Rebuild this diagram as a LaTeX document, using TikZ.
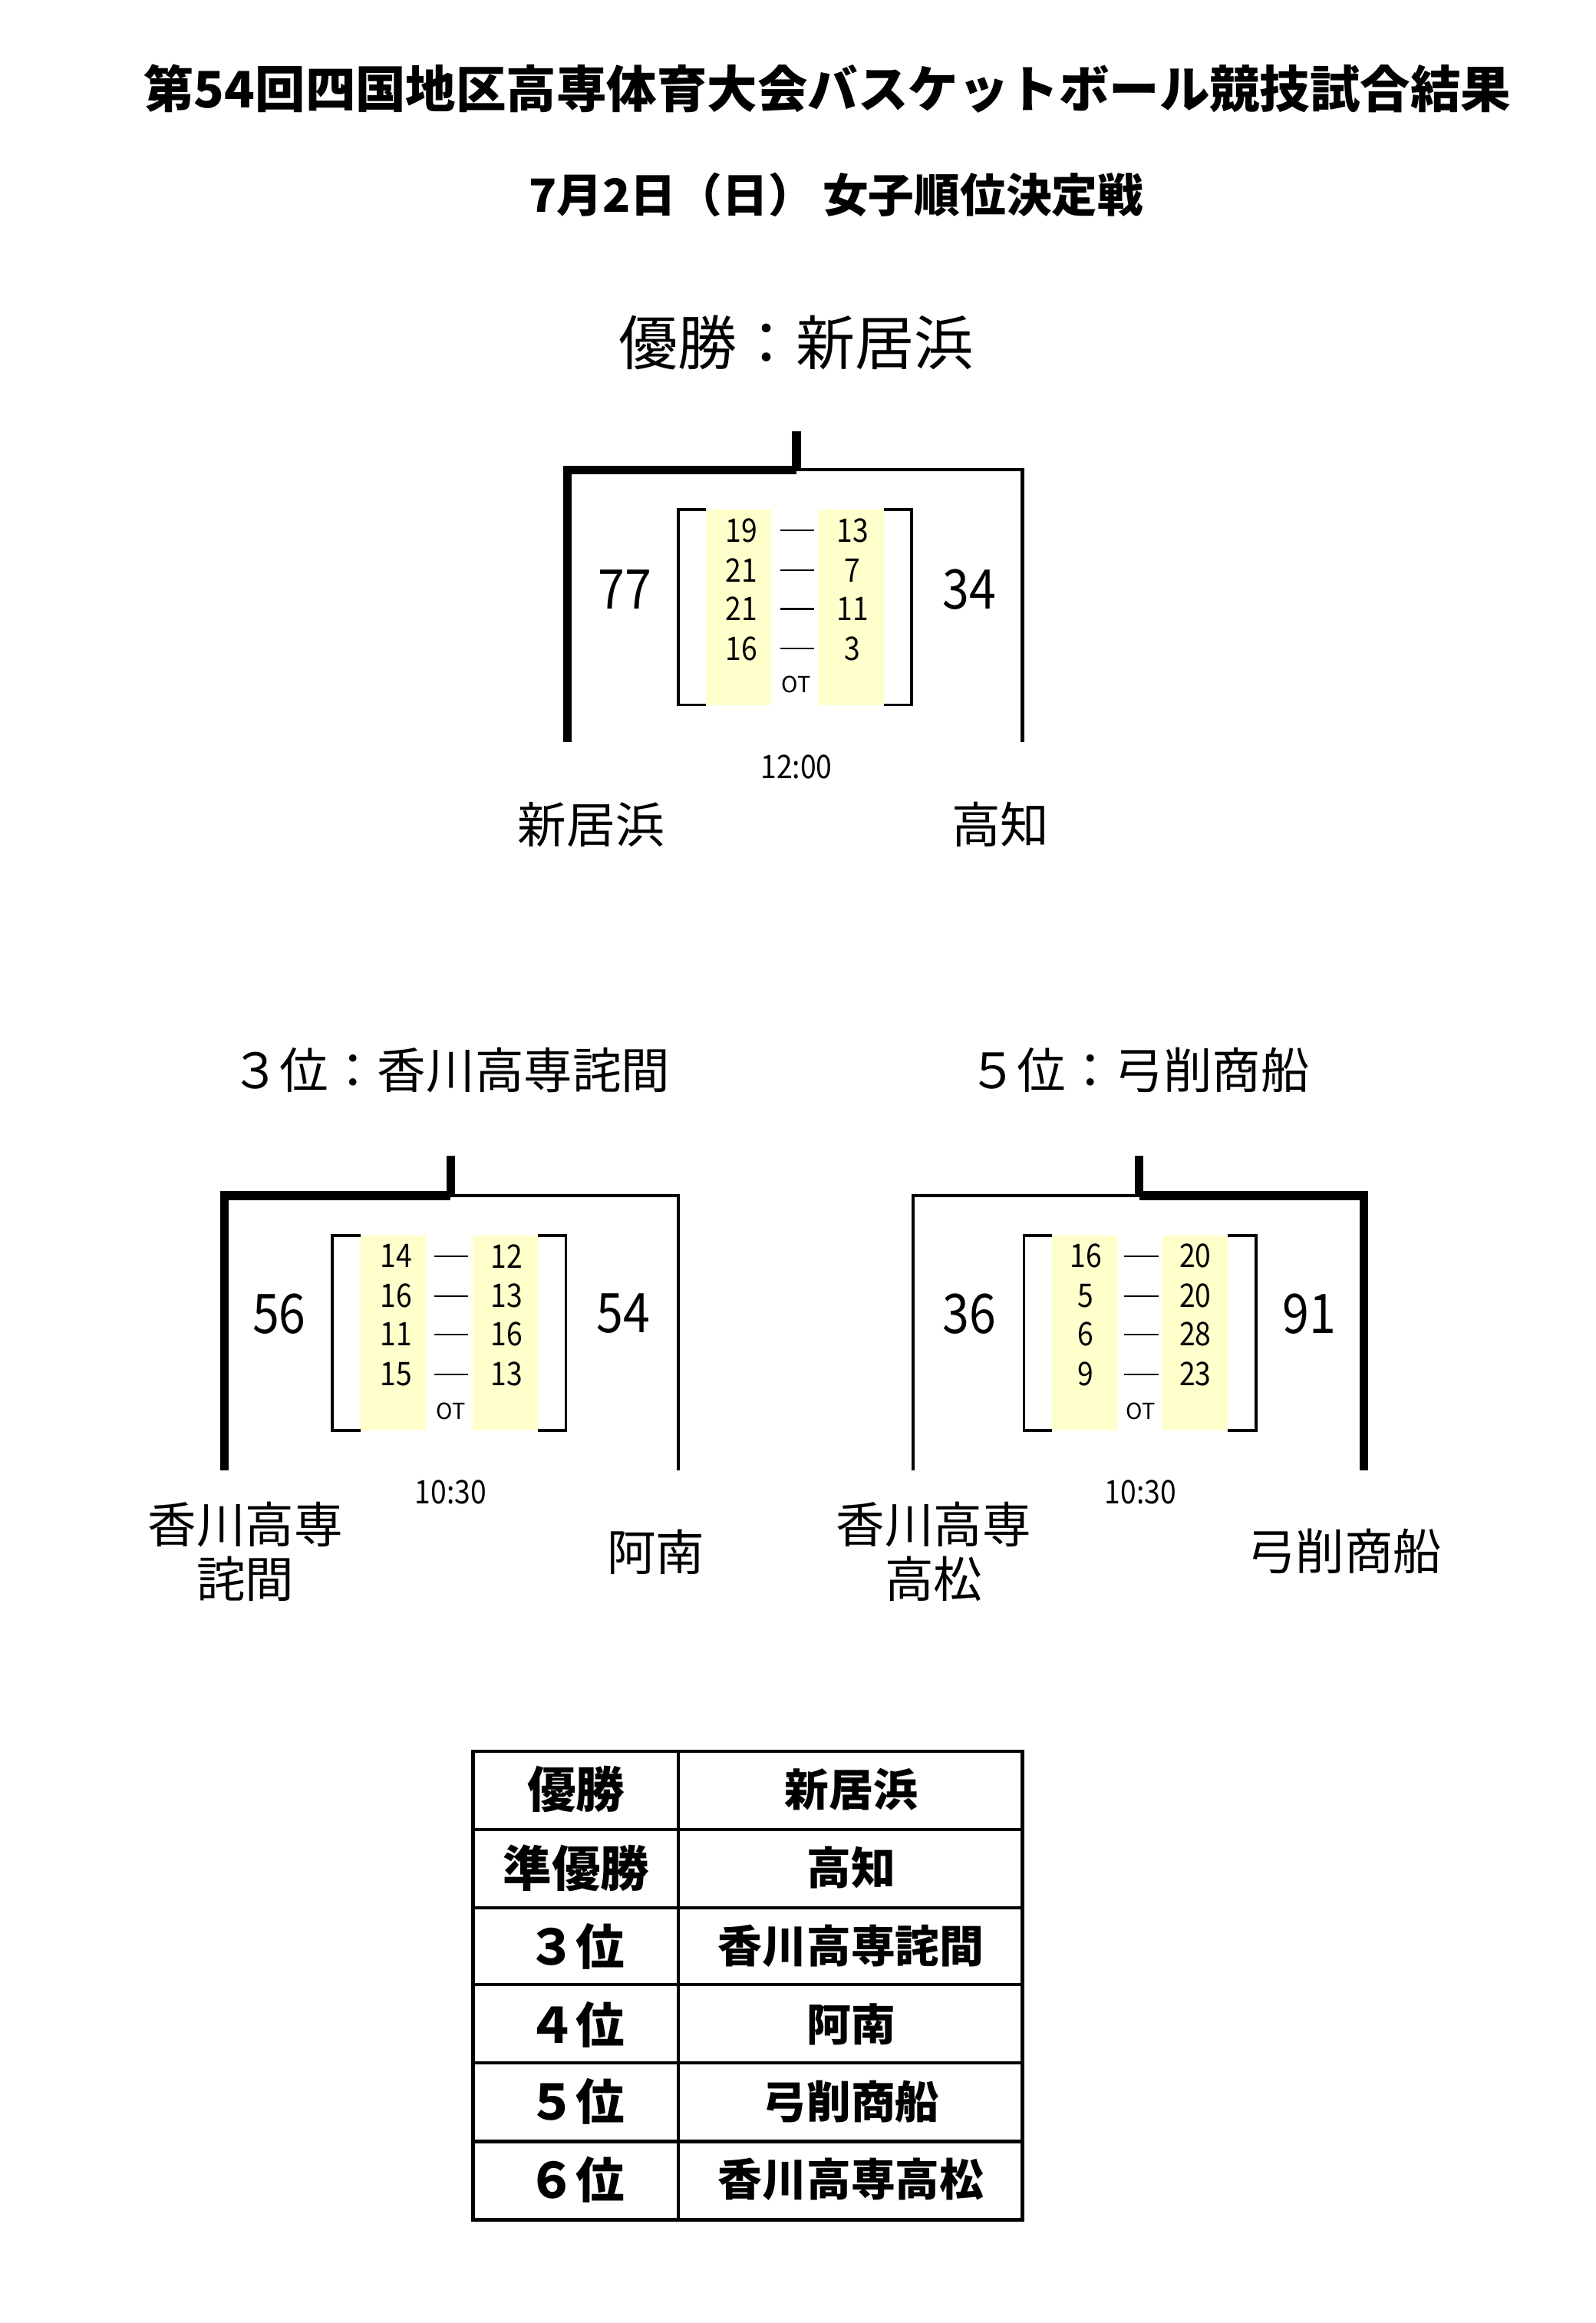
\documentclass[tikz,border=0pt]{standalone}
\usepackage{fontspec}
\setmainfont{Noto Sans CJK JP}
\newfontfamily\narrowfont{Noto Sans CJK JP}[FakeStretch=0.88]
\definecolor{scoreyellow}{HTML}{FFFFCC}
\tikzset{
  win/.style={line width=6pt},
  lose/.style={line width=2.2pt},
  brk/.style={line width=2pt},
  tbl/.style={line width=2.4pt},
  qscore/.style={font=\narrowfont\fontsize{22}{26}\selectfont},
  total/.style={font=\narrowfont\fontsize{37}{42}\selectfont},
  team/.style={font=\fontsize{33}{37}\selectfont,align=center},
}
\begin{document}
\begin{tikzpicture}[x=1pt,y=-1pt]
  \useasboundingbox (0,0) rectangle (1080,1572);
  \node[font=\bfseries\fontsize{34}{38}\selectfont] (title) at (560,60)
    {第54回四国地区高専体育大会バスケットボール競技試合結果};
  \node[font=\bfseries\fontsize{31}{35}\selectfont] (subtitle) at (566,132)
    {7月2日（日）\hspace{6pt}女子順位決定戦};
  % final
  \begin{scope}[shift={(539,292)}]
    \node[font=\fontsize{40}{44}\selectfont] (m1title) at (0,-60) {優勝：新居浜};
    \fill[scoreyellow] (-61,53) rectangle (-17,185);
    \fill[scoreyellow] (15,53) rectangle (59,185);
    \draw[brk] (-61,53) -- (-80,53) -- (-80,185) -- (-61,185);
    \draw[brk] (59,53) -- (78,53) -- (78,185) -- (59,185);
    \foreach \y/\a/\b [count=\k] in {67/19/13,94/21/7,120/21/11,147/16/3} {
      \node[qscore] (m1a\k) at (-37,\y) {\a};
      \node[qscore] (m1b\k) at (38,\y) {\b};
      \draw[line width=1.2pt] (-11,\y) -- (12,\y);%dash
    }
    \node[font=\fontsize{15}{18}\selectfont] (m1ot) at (0,171) {OT};
    \node[total] (m1sa) at (-116,107) {77};
    \node[total] (m1sb) at (117,107) {34};
    \node[qscore] (m1time) at (0,227) {12:00};
    \node[team] (m1ta) at (-139,266) {新居浜};
    \node[team] (m1tb) at (138,266) {高知};
    \coordinate (m1top) at (0,0);
    \coordinate (m1join) at (0,26);
    \coordinate (m1l) at (-155,210);
    \coordinate (m1r) at (153,210);
    \draw[win] (m1top) -- (m1join);
    \draw[win] (m1l) |- (m1join);
    \draw[lose] (m1r) |- (m1join);
  \end{scope}
  % 3rd place
  \begin{scope}[shift={(305,782)}]
    \node[team] (m2title) at (0,-58) {３位：香川高専詫間};
    \fill[scoreyellow] (-61,54) rectangle (-17,186);
    \fill[scoreyellow] (15,54) rectangle (59,186);
    \draw[brk] (-61,54) -- (-80,54) -- (-80,186) -- (-61,186);
    \draw[brk] (59,54) -- (78,54) -- (78,186) -- (59,186);
    \foreach \y/\a/\b [count=\k] in {68/14/12,95/16/13,121/11/16,148/15/13} {
      \node[qscore] (m2a\k) at (-37,\y) {\a};
      \node[qscore] (m2b\k) at (38,\y) {\b};
      \draw[line width=1.2pt] (-11,\y) -- (12,\y);%dash
    }
    \node[font=\fontsize{15}{18}\selectfont] (m2ot) at (0,173) {OT};
    \node[total] (m2sa) at (-116,107) {56};
    \node[total] (m2sb) at (117,107) {54};
    \node[qscore] (m2time) at (0,228) {10:30};
    \node[team] (m2ta) at (-139,268) {香川高専\\詫間};
    \node[team] (m2tb) at (139,268) {阿南};
    \coordinate (m2top) at (0,0);
    \coordinate (m2join) at (0,27);
    \coordinate (m2l) at (-153,213);
    \coordinate (m2r) at (154,213);
    \draw[win] (m2top) -- (m2join);
    \draw[win] (m2l) |- (m2join);
    \draw[lose] (m2r) |- (m2join);
  \end{scope}
  % 5th place
  \begin{scope}[shift={(771,782)}]
    \node[team] (m3title) at (0,-58) {５位：弓削商船};
    \fill[scoreyellow] (-59,54) rectangle (-15,186);
    \fill[scoreyellow] (16,54) rectangle (60,186);
    \draw[brk] (-59,54) -- (-78,54) -- (-78,186) -- (-59,186);
    \draw[brk] (60,54) -- (79,54) -- (79,186) -- (60,186);
    \foreach \y/\a/\b [count=\k] in {68/16/20,95/5/20,121/6/28,148/9/23} {
      \node[qscore] (m3a\k) at (-36,\y) {\a};
      \node[qscore] (m3b\k) at (38,\y) {\b};
      \draw[line width=1.2pt] (-10,\y) -- (13,\y);%dash
    }
    \node[font=\fontsize{15}{18}\selectfont] (m3ot) at (1,173) {OT};
    \node[total] (m3sa) at (-115,107) {36};
    \node[total] (m3sb) at (115,107) {91};
    \node[qscore] (m3time) at (1,228) {10:30};
    \node[team] (m3ta) at (-139,268) {香川高専\\高松};
    \node[team] (m3tb) at (139,268) {弓削商船};
    \coordinate (m3top) at (0,0);
    \coordinate (m3join) at (0,27);
    \coordinate (m3l) at (-153,213);
    \coordinate (m3r) at (152,213);
    \draw[win] (m3top) -- (m3join);
    \draw[lose] (m3l) |- (m3join);
    \draw[win] (m3r) |- (m3join);
  \end{scope}
  % standings table
  \draw[tbl] (320,1185) rectangle (692,1502);
  \draw[tbl] (459,1185) -- (459,1502);
  \foreach \y in {1238,1291,1343,1396,1449} \draw[tbl] (320,\y) -- (692,\y);
  \foreach \y/\r/\n [count=\k] in {1211/優勝/新居浜,1264/準優勝/高知,1317/３位/香川高専詫間,
      1370/４位/阿南,1422/５位/弓削商船,1475/６位/香川高専高松} {
    \node[font=\bfseries\fontsize{33}{37}\selectfont] (rank\k) at (390,\y) {\r};
    \node[font=\bfseries\fontsize{30}{34}\selectfont] (name\k) at (576,\y) {\n};
  }
\end{tikzpicture}
\end{document}
